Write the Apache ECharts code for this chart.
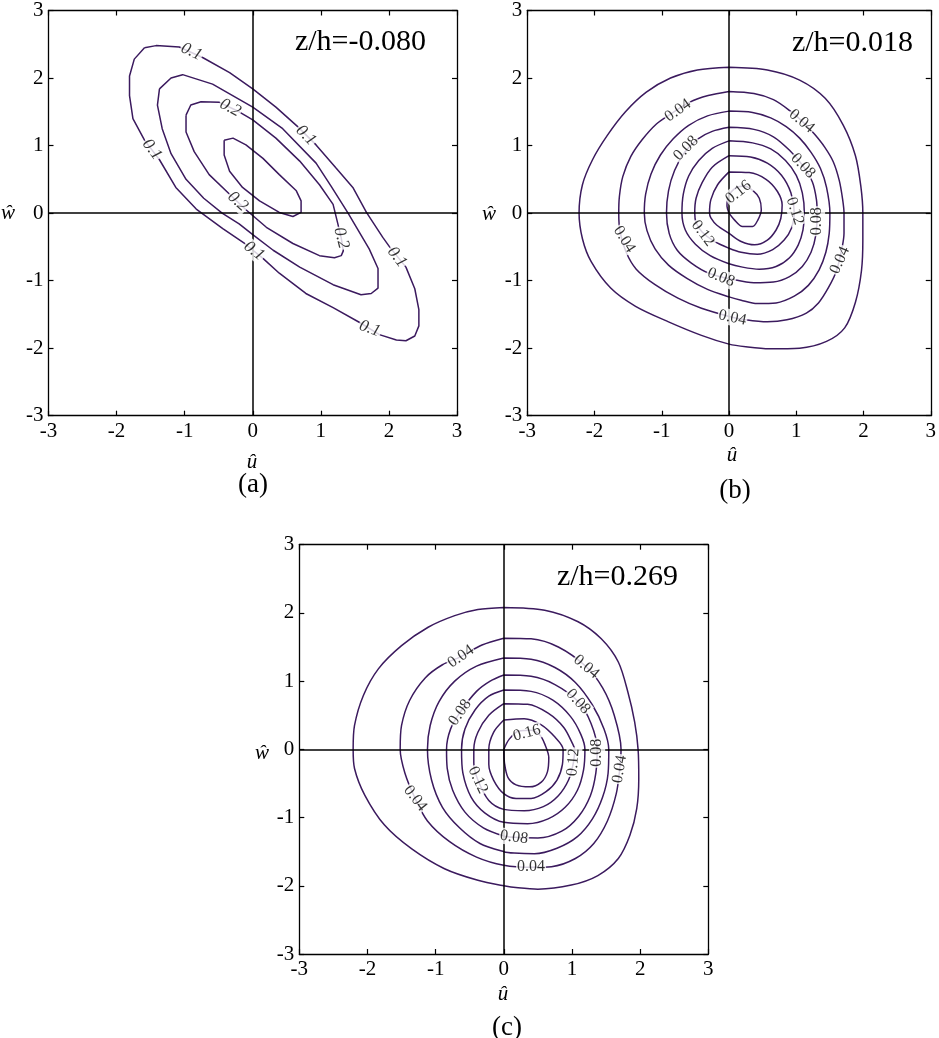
<!DOCTYPE html>
<html>
<head>
<meta charset="utf-8">
<script src="https://cdn.jsdelivr.net/npm/echarts@6/dist/echarts.min.js"></script>
<style>
html,body{margin:0;padding:0;background:#fff;}
#chart{width:939px;height:1038px;}
</style>
</head>
<body>
<div id="chart"></div>
<script>
// ---------- axis ticks ----------
const tickValues = [-3, -2, -1, 0, 1, 2, 3];
const crossAt = 0;

// ---------- panel titles / names ----------
const panelTitles = ['z/h=-0.080', 'z/h=0.018', 'z/h=0.269'];
const panelLetters = ['(a)', '(b)', '(c)'];
const xName = 'û';
const yName = 'ŵ';

// ---------- panel (a) contours (u, w) ----------
const a_010 = [[-1.59,2.45],[-1.42,2.48],[-1.08,2.46],[-0.73,2.30],[-0.34,2.08],[0,1.84],[0.34,1.57],[0.66,1.28],[0.93,1.01],[1.22,0.67],[1.47,0.38],[1.67,0.01],[1.91,-0.36],[2.01,-0.50],[2.25,-0.80],[2.38,-1.12],[2.44,-1.43],[2.44,-1.67],[2.38,-1.82],[2.25,-1.89],[2.11,-1.88],[1.86,-1.80],[1.57,-1.62],[1.18,-1.40],[0.78,-1.19],[0.39,-0.89],[0.15,-0.67],[-0.12,-0.45],[-0.44,-0.23],[-0.83,0.06],[-1.13,0.38],[-1.37,0.79],[-1.59,1.08],[-1.76,1.40],[-1.81,1.74],[-1.81,2.03],[-1.74,2.28],[-1.59,2.45]];
const a_015 = [[-1.37,1.84],[-1.20,2.0],[-1.03,2.05],[-0.59,1.91],[0,1.57],[0.44,1.25],[0.93,0.74],[1.15,0.40],[1.40,0],[1.71,-0.53],[1.84,-0.82],[1.84,-1.11],[1.74,-1.19],[1.59,-1.21],[1.18,-1.06],[0.69,-0.80],[0.30,-0.55],[0,-0.32],[-0.20,-0.16],[-0.45,0],[-0.72,0.22],[-0.98,0.50],[-1.20,0.88],[-1.33,1.25],[-1.40,1.60],[-1.37,1.84]];
const a_020 = [[-0.98,1.45],[-0.91,1.60],[-0.76,1.65],[-0.49,1.64],[-0.20,1.50],[0,1.38],[0.34,1.11],[0.69,0.77],[0.98,0.42],[1.18,0.13],[1.25,-0.16],[1.30,-0.37],[1.33,-0.56],[1.30,-0.63],[1.20,-0.66],[0.98,-0.63],[0.59,-0.45],[0.20,-0.21],[-0.10,0.05],[-0.34,0.28],[-0.64,0.57],[-0.86,0.91],[-0.98,1.20],[-0.98,1.45]];
const a_025 = [[-0.42,1.08],[-0.29,1.11],[-0.10,1.01],[0.15,0.81],[0.39,0.57],[0.64,0.33],[0.71,0.18],[0.71,0.01],[0.59,-0.05],[0.39,0.01],[0.10,0.18],[-0.15,0.38],[-0.34,0.62],[-0.42,0.86],[-0.42,1.08]];
const a_labels = [[-0.90,2.39,'0.1'],[0.78,1.15,'0.1'],[-1.48,0.94,'0.1'],[2.12,-0.65,'0.1'],[1.72,-1.71,'0.1'],[0.02,-0.56,'0.1'],[-0.33,1.56,'0.2'],[-0.22,0.17,'0.2'],[1.30,-0.37,'0.2']];

// ---------- panel (b) contours ----------
const b_002 = [[0,2.16],[0.57,2.12],[1.05,1.97],[1.43,1.70],[1.70,1.30],[1.88,0.85],[1.96,0.40],[1.99,0],[1.99,-0.40],[1.97,-0.85],[1.88,-1.32],[1.72,-1.70],[1.45,-1.90],[1.05,-2.0],[0.60,-2.01],[0.25,-1.98],[0,-1.94],[-0.41,-1.81],[-0.90,-1.61],[-1.39,-1.38],[-1.76,-1.11],[-2.05,-0.72],[-2.18,-0.38],[-2.23,0],[-2.18,0.42],[-2.03,0.79],[-1.81,1.15],[-1.54,1.50],[-1.23,1.79],[-0.87,2.0],[-0.47,2.12],[0,2.16]];
const b_004 = [[0,1.80],[0.37,1.77],[0.66,1.68],[0.90,1.52],[1.10,1.35],[1.27,1.17],[1.42,0.98],[1.55,0.76],[1.64,0.48],[1.69,0.20],[1.71,0],[1.71,-0.30],[1.68,-0.52],[1.60,-0.85],[1.48,-1.10],[1.33,-1.33],[1.15,-1.48],[0.86,-1.58],[0.57,-1.61],[0.25,-1.58],[0,-1.53],[-0.41,-1.41],[-0.76,-1.26],[-1.10,-1.06],[-1.38,-0.83],[-1.53,-0.58],[-1.62,-0.28],[-1.64,0],[-1.63,0.25],[-1.58,0.54],[-1.46,0.84],[-1.29,1.09],[-1.08,1.32],[-0.88,1.46],[-0.59,1.64],[-0.31,1.74],[0,1.80]];
const b_006 = [[0,1.51],[0.35,1.49],[0.62,1.41],[0.85,1.28],[1.05,1.11],[1.22,0.90],[1.36,0.66],[1.45,0.38],[1.50,0],[1.49,-0.30],[1.44,-0.58],[1.34,-0.84],[1.18,-1.07],[0.97,-1.23],[0.70,-1.33],[0.42,-1.34],[0.18,-1.29],[0,-1.24],[-0.32,-1.13],[-0.62,-0.97],[-0.90,-0.77],[-1.10,-0.53],[-1.22,-0.26],[-1.26,0],[-1.24,0.28],[-1.16,0.58],[-1.02,0.86],[-0.83,1.10],[-0.60,1.30],[-0.32,1.44],[0,1.51]];
const b_008 = [[0,1.27],[0.37,1.24],[0.66,1.13],[0.90,0.93],[1.10,0.70],[1.24,0.46],[1.30,0.20],[1.31,0],[1.29,-0.33],[1.22,-0.58],[1.09,-0.79],[0.90,-0.94],[0.66,-1.02],[0.37,-1.03],[0.05,-0.98],[-0.30,-0.89],[-0.56,-0.74],[-0.77,-0.55],[-0.89,-0.30],[-0.93,0],[-0.90,0.33],[-0.81,0.63],[-0.66,0.90],[-0.46,1.10],[-0.25,1.21],[0,1.27]];
const b_010 = [[0,1.07],[0.35,1.04],[0.62,0.95],[0.84,0.78],[1.0,0.56],[1.09,0.30],[1.12,0],[1.10,-0.25],[1.03,-0.47],[0.90,-0.66],[0.70,-0.79],[0.45,-0.83],[0.20,-0.80],[0,-0.75],[-0.28,-0.63],[-0.50,-0.46],[-0.65,-0.25],[-0.70,0],[-0.68,0.28],[-0.60,0.55],[-0.45,0.78],[-0.25,0.96],[0,1.07]];
const b_012 = [[0,0.85],[0.32,0.83],[0.57,0.74],[0.78,0.56],[0.92,0.30],[0.97,0],[0.93,-0.22],[0.82,-0.40],[0.65,-0.54],[0.42,-0.61],[0.18,-0.58],[0,-0.52],[-0.22,-0.42],[-0.40,-0.28],[-0.49,-0.14],[-0.51,0],[-0.49,0.22],[-0.40,0.45],[-0.25,0.68],[0,0.85]];
const b_014 = [[0,0.61],[0.30,0.60],[0.55,0.50],[0.72,0.32],[0.79,0.12],[0.77,-0.08],[0.70,-0.25],[0.57,-0.40],[0.38,-0.47],[0.18,-0.42],[0,-0.30],[-0.18,-0.18],[-0.27,-0.07],[-0.29,0],[-0.27,0.20],[-0.17,0.42],[0,0.61]];
const b_016 = [[0,0],[0.08,-0.10],[0.20,-0.20],[0.35,-0.20],[0.43,-0.10],[0.48,0.05],[0.45,0.22],[0.36,0.33],[0.22,0.40],[0.08,0.36],[-0.02,0.22],[-0.03,0.10],[0,0]];
const b_labels = [[-0.76,1.52,'0.04'],[1.08,1.36,'0.04'],[-0.64,0.96,'0.08'],[1.10,0.70,'0.08'],[0.14,0.31,'0.16'],[0.98,0.03,'0.12'],[1.31,-0.12,'0.08'],[-0.39,-0.30,'0.12'],[-1.56,-0.39,'0.04'],[-0.12,-0.95,'0.08'],[0.05,-1.55,'0.04'],[1.65,-0.70,'0.04']];

// ---------- panel (c) contours ----------
const c_002 = [[0,2.08],[0.60,2.04],[1.09,1.87],[1.43,1.62],[1.68,1.28],[1.82,0.84],[1.92,0.40],[1.97,0],[1.98,-0.43],[1.95,-0.87],[1.85,-1.26],[1.68,-1.60],[1.38,-1.85],[0.99,-1.99],[0.50,-2.05],[0.21,-2.03],[0,-2.0],[-0.38,-1.92],[-0.87,-1.75],[-1.35,-1.46],[-1.75,-1.11],[-2.04,-0.67],[-2.19,-0.28],[-2.21,0],[-2.19,0.35],[-2.06,0.79],[-1.84,1.18],[-1.50,1.52],[-1.11,1.79],[-0.72,1.96],[-0.38,2.05],[0,2.08]];
const c_004 = [[0,1.63],[0.40,1.62],[0.80,1.50],[1.21,1.21],[1.45,0.90],[1.62,0.50],[1.72,0],[1.70,-0.30],[1.65,-0.65],[1.52,-1.05],[1.32,-1.38],[1.05,-1.60],[0.70,-1.72],[0.40,-1.73],[0,-1.70],[-0.40,-1.58],[-0.80,-1.35],[-1.12,-1.05],[-1.30,-0.72],[-1.45,-0.35],[-1.52,0],[-1.50,0.35],[-1.38,0.72],[-1.15,1.05],[-0.90,1.24],[-0.63,1.36],[-0.32,1.53],[0,1.63]];
const c_006 = [[0,1.34],[0.40,1.32],[0.75,1.20],[1.05,0.98],[1.30,0.65],[1.47,0.30],[1.54,0],[1.53,-0.35],[1.45,-0.70],[1.30,-1.02],[1.08,-1.28],[0.78,-1.45],[0.45,-1.53],[0.15,-1.52],[0,-1.50],[-0.35,-1.38],[-0.65,-1.15],[-0.90,-0.85],[-1.06,-0.45],[-1.12,0],[-1.08,0.35],[-0.95,0.70],[-0.72,1.00],[-0.40,1.22],[0,1.34]];
const c_008 = [[0,1.09],[0.40,1.07],[0.75,0.95],[1.09,0.70],[1.28,0.38],[1.37,0],[1.35,-0.35],[1.27,-0.68],[1.10,-0.98],[0.85,-1.20],[0.50,-1.30],[0.15,-1.29],[0,-1.27],[-0.30,-1.15],[-0.57,-0.92],[-0.75,-0.60],[-0.83,-0.28],[-0.84,0],[-0.78,0.30],[-0.63,0.56],[-0.40,0.85],[-0.20,1.00],[0,1.09]];
const c_010 = [[0,0.87],[0.40,0.85],[0.72,0.72],[0.98,0.48],[1.13,0.22],[1.19,0],[1.17,-0.30],[1.08,-0.60],[0.90,-0.85],[0.65,-1.02],[0.35,-1.09],[0,-1.07],[-0.28,-0.93],[-0.48,-0.70],[-0.60,-0.35],[-0.62,0],[-0.57,0.30],[-0.42,0.58],[-0.22,0.78],[0,0.87]];
const c_012 = [[0,0.67],[0.35,0.66],[0.65,0.53],[0.88,0.32],[1.01,0.08],[1.04,0],[1.02,-0.20],[0.95,-0.45],[0.80,-0.68],[0.58,-0.84],[0.30,-0.90],[0,-0.88],[-0.22,-0.75],[-0.38,-0.45],[-0.44,-0.20],[-0.44,0],[-0.38,0.25],[-0.22,0.50],[0,0.67]];
const c_014 = [[0,0.43],[0.30,0.45],[0.55,0.36],[0.75,0.18],[0.87,0],[0.86,-0.22],[0.78,-0.45],[0.62,-0.62],[0.40,-0.72],[0.18,-0.72],[0,-0.65],[-0.15,-0.45],[-0.22,-0.22],[-0.22,0],[-0.15,0.25],[0,0.43]];
const c_016 = [[0,0],[0.01,-0.20],[0.06,-0.41],[0.18,-0.52],[0.38,-0.55],[0.55,-0.48],[0.64,-0.33],[0.66,-0.12],[0.60,0.08],[0.53,0.21],[0.40,0.28],[0.22,0.27],[0.08,0.15],[0,0]];
const c_labels = [[-0.63,1.36,'0.04'],[1.21,1.21,'0.04'],[-0.64,0.54,'0.08'],[1.09,0.70,'0.08'],[0.34,0.24,'0.16'],[1.02,-0.19,'0.12'],[1.37,-0.05,'0.08'],[1.70,-0.29,'0.04'],[-0.38,-0.45,'0.12'],[-1.30,-0.72,'0.04'],[0.15,-1.29,'0.08'],[0.40,-1.72,'0.04']];

// ---------- styles (kept apart from data) ----------
const labelRot = {
  a: [-25, -45, -53, -52, -20, -38, -28, -42, -76],
  b: [35, -40, 45, -47, 38, -72, 90, -53, -58, -22, -12, 66],
  c: [35, -40, 55, -48, 15, 85, 90, 80, -65, -52, -8, 0]
};
const LINE = '#3b1a5e';
const SERIF = '"Liberation Serif", "Times New Roman", serif';
const gridBoxes = [
  {left: 48.5, top: 5.7, width: 408.5, height: 410},
  {left: 527.3, top: 6.5, width: 408.4, height: 409.2},
  {left: 299.3, top: 544.7, width: 409, height: 409.3}
];

const panels = [
  {contours: [a_010, a_015, a_020, a_025], labels: a_labels, rot: labelRot.a, smooth: false, italic: true},
  {contours: [b_002, b_004, b_006, b_008, b_010, b_012, b_014, b_016], labels: b_labels, rot: labelRot.b, smooth: 0.3, italic: false},
  {contours: [c_002, c_004, c_006, c_008, c_010, c_012, c_014, c_016], labels: c_labels, rot: labelRot.c, smooth: 0.3, italic: false}
];

const tMin = tickValues[0], tMax = tickValues[tickValues.length - 1], tStep = tickValues[1] - tickValues[0];

function axis(gi, pos, showLabel) {
  return {
    gridIndex: gi, type: 'value', position: pos,
    min: tMin, max: tMax, interval: tStep,
    axisLine: {show: true, onZero: false, lineStyle: {color: '#000', width: 1.3}},
    axisTick: {show: true, inside: true, length: 5, lineStyle: {color: '#000', width: 1.2}},
    axisLabel: {show: showLabel, color: '#000', fontFamily: SERIF, fontSize: 21, margin: 5},
    splitLine: {show: false}
  };
}

const grid = [], xAxis = [], yAxis = [], series = [];
gridBoxes.forEach((g, i) => {
  grid.push(Object.assign({containLabel: false}, g));
  xAxis.push(axis(i, 'bottom', true));
  xAxis.push(axis(i, 'top', false));
  yAxis.push(axis(i, 'left', true));
  yAxis.push(axis(i, 'right', false));
});

panels.forEach((p, i) => {
  p.contours.forEach((c, k) => {
    const s = {
      type: 'line', xAxisIndex: 2 * i, yAxisIndex: 2 * i,
      data: c, showSymbol: false, symbol: 'none', smooth: p.smooth,
      lineStyle: {color: LINE, width: 1.5}, silent: true, z: 3
    };
    if (k === 0) {
      s.markLine = {
        silent: true, symbol: 'none', animation: false,
        label: {show: false},
        lineStyle: {color: '#000', width: 1.5, type: 'solid'},
        data: [{xAxis: crossAt}, {yAxis: crossAt}]
      };
    }
    series.push(s);
  });
  series.push({
    type: 'scatter', xAxisIndex: 2 * i, yAxisIndex: 2 * i,
    symbolSize: 1, itemStyle: {color: 'rgba(0,0,0,0)'}, silent: true, z: 5,
    data: p.labels.map((l, j) => ({
      name: l[2], value: [l[0], l[1]],
      label: {rotate: p.rot[j]}
    })),
    label: {
      show: true, position: 'inside', formatter: '{b}',
      fontFamily: SERIF, fontSize: i === 0 ? 17 : 16,
      fontStyle: p.italic ? 'italic' : 'normal',
      color: '#000', backgroundColor: '#fff', padding: [0, 1]
    }
  });
});

function txt(text, x, y, font, align) {
  return {type: 'text', silent: true, z: 10,
    style: {text: text, x: x, y: y, font: font, textAlign: align || 'center', textVerticalAlign: 'middle', fill: '#000'}};
}

const graphic = [
  txt(panelTitles[0], 426, 42, '30px ' + SERIF, 'right'),
  txt(panelTitles[1], 913, 43, '30px ' + SERIF, 'right'),
  txt(panelTitles[2], 678, 577, '30px ' + SERIF, 'right'),
  txt(yName, 8, 213, 'italic 21px ' + SERIF),
  txt(xName, 252, 462, 'italic 21px ' + SERIF),
  txt(yName, 489, 214, 'italic 21px ' + SERIF),
  txt(xName, 732, 455, 'italic 21px ' + SERIF),
  txt(yName, 262, 753, 'italic 21px ' + SERIF),
  txt(xName, 503, 994, 'italic 21px ' + SERIF),
  txt(panelLetters[0], 253, 485, '27px ' + SERIF),
  txt(panelLetters[1], 735, 491, '27px ' + SERIF),
  txt(panelLetters[2], 507, 1028, '27px ' + SERIF)
];

const chart = echarts.init(document.getElementById('chart'), null, {renderer: 'canvas'});
chart.setOption({
  animation: false,
  backgroundColor: '#fff',
  grid: grid, xAxis: xAxis, yAxis: yAxis, series: series, graphic: graphic
});
</script>
</body>
</html>
